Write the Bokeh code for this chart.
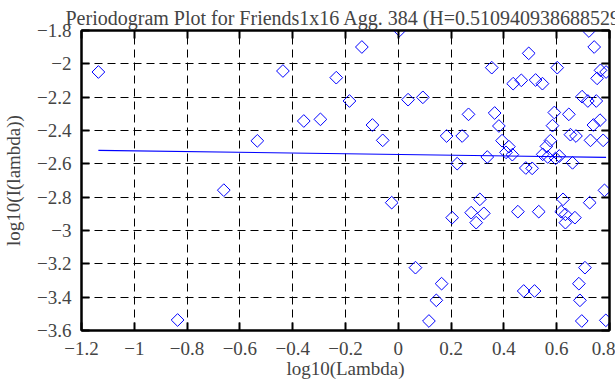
import numpy as np
from bokeh.plotting import figure
from bokeh.models import LinearAxis, FixedTicker, Range1d
from bokeh.embed import file_html
from bokeh.resources import INLINE

TITLE = "Periodogram Plot for Friends1x16 Agg. 384 (H=0.510940938688529)"
X_LABEL = "log10(Lambda)"
Y_LABEL = "log10(I(lambda))"

log_lambda = [
    -1.136, -0.836, -0.661, -0.534, -0.437, -0.358, -0.295, -0.235, -0.185, -0.138,
    -0.098, -0.059, -0.025, 0.005, 0.037, 0.093, 0.065, 0.116, 0.144, 0.164,
    0.183, 0.204, 0.223, 0.242, 0.266, 0.276, 0.295, 0.309, 0.324, 0.337,
    0.354, 0.365, 0.381, 0.393, 0.408, 0.419, 0.432, 0.435, 0.453, 0.466,
    0.475, 0.483, 0.494, 0.507, 0.516, 0.520, 0.532, 0.546, 0.547, 0.561,
    0.566, 0.576, 0.584, 0.591, 0.602, 0.610, 0.617, 0.624, 0.633, 0.633,
    0.646, 0.652, 0.660, 0.669, 0.673, 0.684, 0.688, 0.695, 0.696, 0.707,
    0.718, 0.722, 0.725, 0.728, 0.739, 0.742, 0.750, 0.753, 0.764, 0.766,
    0.776, 0.781, 0.786, 0.787, 0.596,
]
log_I = [
    -2.049, -3.537, -2.758, -2.462, -2.043, -2.343, -2.333, -2.083, -2.223, -1.899,
    -2.367, -2.459, -2.833, -1.799, -2.215, -2.201, -3.223, -3.543, -3.419, -3.319,
    -2.433, -2.923, -2.599, -2.433, -2.303, -2.893, -2.953, -2.813, -2.897, -2.559,
    -2.023, -2.295, -2.373, -2.461, -2.531, -2.497, -2.545, -2.119, -2.887, -2.099,
    -3.363, -2.625, -1.937, -2.627, -3.363, -2.097, -2.887, -2.119, -2.543, -2.495,
    -2.559, -2.461, -2.371, -2.292, -2.023, -2.553, -2.887, -2.813, -2.903, -2.953,
    -2.303, -2.425, -2.594, -2.923, -2.433, -3.319, -3.419, -3.543, -2.197, -3.223,
    -2.223, -1.803, -2.833, -2.459, -2.367, -1.899, -2.223, -2.087, -2.338, -2.039,
    -2.459, -2.759, -3.539, -2.049, -2.567,
]

fit_x = [-1.136, 0.787]
fit_y = [-2.519, -2.561]

x_ticks = [-1.2, -1.0, -0.8, -0.6, -0.4, -0.2, 0.0, 0.2, 0.4, 0.6, 0.8]
x_tick_labels = ["\u22121.2", "\u22121", "\u22120.8", "\u22120.6", "\u22120.4", "\u22120.2",
                 "0", "0.2", "0.4", "0.6", "0.8"]
y_ticks = [-3.6, -3.4, -3.2, -3.0, -2.8, -2.6, -2.4, -2.2, -2.0, -1.8]
y_tick_labels = ["\u22123.6", "\u22123.4", "\u22123.2", "\u22123", "\u22122.8", "\u22122.6",
                 "\u22122.4", "\u22122.2", "\u22122", "\u22121.8"]

FONT = "Liberation Serif"

p = figure(width=615, height=385, output_backend="svg", toolbar_location=None,
           x_range=Range1d(-1.2, 0.8), y_range=Range1d(-3.6, -1.8),
           min_border_left=81, min_border_right=6, min_border_top=30, min_border_bottom=55)
p.background_fill_color = "white"
p.border_fill_color = "white"
p.outline_line_color = "black"
p.outline_line_width = 2

p.title.text = TITLE
p.title.text_font = FONT
p.title.text_font_size = "20px"
p.title.text_font_style = "normal"
p.title.align = "left"
p.title.offset = -16
p.title.standoff = 4

for ax in (p.xaxis[0], p.yaxis[0]):
    ax.major_label_text_font = FONT
    ax.major_label_text_font_size = "19px"
    ax.axis_label_text_font = FONT
    ax.axis_label_text_font_size = "19px"
    ax.axis_label_text_font_style = "normal"
    ax.major_tick_in = 8
    ax.major_tick_out = 0
    ax.minor_tick_line_color = None
    ax.major_tick_line_width = 2
    ax.axis_line_width = 2

p.xaxis[0].ticker = FixedTicker(ticks=x_ticks)
p.xaxis[0].major_label_overrides = {t: l for t, l in zip(x_ticks, x_tick_labels)}
p.yaxis[0].ticker = FixedTicker(ticks=y_ticks)
p.yaxis[0].major_label_overrides = {t: l for t, l in zip(y_ticks, y_tick_labels)}
p.xaxis[0].axis_label = X_LABEL
p.yaxis[0].axis_label = Y_LABEL
p.xaxis[0].major_label_standoff = 11
p.xaxis[0].axis_label_standoff = 0
p.yaxis[0].major_label_standoff = 10
p.yaxis[0].axis_label_standoff = 10

for loc, ticks in (("above", x_ticks), ("right", y_ticks)):
    ax = LinearAxis(ticker=FixedTicker(ticks=ticks))
    ax.major_label_overrides = {t: "" for t in ticks}
    ax.major_label_standoff = 0
    ax.major_tick_in = 8
    ax.major_tick_out = 0
    ax.minor_tick_line_color = None
    ax.major_tick_line_width = 2
    ax.axis_line_width = 2
    p.add_layout(ax, loc)

p.xgrid.ticker = FixedTicker(ticks=x_ticks)
p.ygrid.ticker = FixedTicker(ticks=y_ticks)
for g in (p.xgrid[0], p.ygrid[0]):
    g.grid_line_color = "black"
    g.grid_line_dash = "8 5"
    g.grid_line_width = 1
    g.grid_line_alpha = 1

p.line(fit_x, fit_y, line_color="blue", line_width=1.2)
p.scatter(log_lambda, log_I, marker="square", size=9, angle=np.pi / 4,
          line_color="blue", fill_color=None, line_width=1)

open("out.html", "w").write(file_html(p, INLINE))
